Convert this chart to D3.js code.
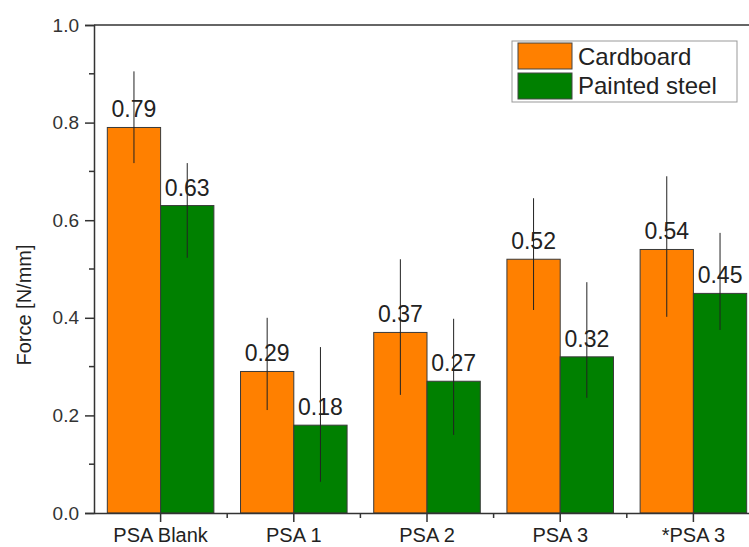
<!DOCTYPE html>
<html>
<head>
<meta charset="utf-8">
<script src="https://cdn.jsdelivr.net/npm/d3@7"></script>
<style>
  body { margin: 0; background: #fff; }
  svg { display: block; font-family: Arial, "Liberation Sans", sans-serif; }
</style>
</head>
<body>
<div id="vis"></div>
<script>
// chart values
var categories = ['PSA Blank', 'PSA 1', 'PSA 2', 'PSA 3', '*PSA 3'];
var seriesNames = ['Cardboard', 'Painted steel'];
var cardboard = [0.79, 0.29, 0.37, 0.52, 0.54];
var paintedSteel = [0.63, 0.18, 0.27, 0.32, 0.45];
// error bar ends (upper / lower)
var cardboardHigh = [0.905, 0.40, 0.52, 0.645, 0.69];
var cardboardLow = [0.717, 0.211, 0.242, 0.416, 0.402];
var steelHigh = [0.717, 0.34, 0.398, 0.473, 0.574];
var steelLow = [0.523, 0.064, 0.16, 0.236, 0.375];
var yTicks = [0, 0.2, 0.4, 0.6, 0.8, 1.0];
var yMinorTicks = [0.1, 0.3, 0.5, 0.7, 0.9];

var colors = ['#ff8000', '#008000'];

var width = 749;
var height = 547;
var margin = { top: 25, left: 94, bottom: 34, right: -11 };

var svg = d3.select('#vis')
  .append('svg')
  .attr('width', width)
  .attr('height', height);

var plotW = width - margin.left - margin.right;
var plotH = height - margin.top - margin.bottom;

var g = svg.append('g')
  .attr('transform', 'translate(' + margin.left + ',' + margin.top + ')');

var x = d3.scaleBand()
  .domain(categories)
  .range([0, plotW])
  .paddingInner(0.2)
  .paddingOuter(0.1);

var xSub = d3.scaleBand()
  .domain(seriesNames)
  .range([0, x.bandwidth()]);

var y = d3.scaleLinear()
  .domain([0, 1])
  .range([plotH, 0]);

var data = [];
categories.forEach(function (c, i) {
  data.push({ cat: c, series: seriesNames[0], v: cardboard[i], hi: cardboardHigh[i], lo: cardboardLow[i], k: 0 });
  data.push({ cat: c, series: seriesNames[1], v: paintedSteel[i], hi: steelHigh[i], lo: steelLow[i], k: 1 });
});

var axisColor = '#333';

// bars
g.selectAll('rect.bar')
  .data(data).enter()
  .append('rect')
  .attr('class', 'bar')
  .attr('x', d => x(d.cat) + xSub(d.series))
  .attr('y', d => y(d.v))
  .attr('width', xSub.bandwidth())
  .attr('height', d => y(0) - y(d.v))
  .attr('fill', d => colors[d.k])
  .attr('stroke', '#3a3a3a')
  .attr('stroke-width', 1);

// error bars
g.selectAll('line.err')
  .data(data).enter()
  .append('line')
  .attr('class', 'err')
  .attr('x1', d => x(d.cat) + xSub(d.series) + xSub.bandwidth() / 2)
  .attr('x2', d => x(d.cat) + xSub(d.series) + xSub.bandwidth() / 2)
  .attr('y1', d => y(d.hi))
  .attr('y2', d => y(d.lo))
  .attr('stroke', '#222')
  .attr('stroke-width', 1);

// value labels
g.selectAll('text.val')
  .data(data).enter()
  .append('text')
  .attr('class', 'val')
  .attr('x', d => x(d.cat) + xSub(d.series) + xSub.bandwidth() / 2)
  .attr('y', d => y(d.v) - 10)
  .attr('text-anchor', 'middle')
  .attr('font-size', 23)
  .attr('fill', '#222')
  .text(d => d.v.toFixed(2));

// frame: top and right
g.append('line')
  .attr('x1', 0).attr('x2', plotW)
  .attr('y1', 0).attr('y2', 0)
  .attr('stroke', axisColor).attr('stroke-width', 1.5);
g.append('line')
  .attr('x1', plotW).attr('x2', plotW)
  .attr('y1', 0).attr('y2', plotH)
  .attr('stroke', axisColor).attr('stroke-width', 1.5);

// y axis
var yAxis = g.append('g')
  .call(d3.axisLeft(y).tickValues(yTicks).tickFormat(d3.format('.1f')).tickSize(9).tickPadding(6));
yAxis.select('.domain').attr('stroke', axisColor).attr('stroke-width', 1.5);
yAxis.selectAll('.tick line').attr('stroke', axisColor).attr('stroke-width', 1.5);
yAxis.selectAll('.tick text').attr('font-size', 19).attr('fill', '#333').attr('font-family', null);

g.selectAll('line.yminor')
  .data(yMinorTicks).enter()
  .append('line')
  .attr('class', 'yminor')
  .attr('x1', -5).attr('x2', 0)
  .attr('y1', d => y(d)).attr('y2', d => y(d))
  .attr('stroke', axisColor).attr('stroke-width', 1.5);

// x axis
var xAxis = g.append('g')
  .attr('transform', 'translate(0,' + plotH + ')')
  .call(d3.axisBottom(x).tickSize(9).tickPadding(6).tickSizeOuter(0));
xAxis.select('.domain').attr('stroke', axisColor).attr('stroke-width', 1.5);
xAxis.selectAll('.tick line').attr('stroke', axisColor).attr('stroke-width', 1.5);
xAxis.selectAll('.tick text').attr('font-size', 20).attr('fill', '#222').attr('font-family', null);

g.selectAll('line.xminor')
  .data(categories.slice(1)).enter()
  .append('line')
  .attr('class', 'xminor')
  .attr('x1', d => x(d) - x.step() * x.paddingInner() / 2)
  .attr('x2', d => x(d) - x.step() * x.paddingInner() / 2)
  .attr('y1', plotH).attr('y2', plotH + 5)
  .attr('stroke', axisColor).attr('stroke-width', 1.5);

// y axis title
svg.append('text')
  .attr('transform', 'translate(31,' + 305 + ') rotate(-90)')
  .attr('text-anchor', 'middle')
  .attr('font-size', 20)
  .attr('fill', '#222')
  .text('Force [N/mm]');

// legend
var legend = svg.append('g').attr('transform', 'translate(512,41)');
legend.append('rect')
  .attr('width', 225).attr('height', 61)
  .attr('fill', '#fff')
  .attr('stroke', '#999').attr('stroke-width', 1);
seriesNames.forEach(function (s, i) {
  legend.append('rect')
    .attr('x', 6).attr('y', 2 + i * 30)
    .attr('width', 54).attr('height', 26)
    .attr('fill', colors[i])
    .attr('stroke', '#444').attr('stroke-width', 1);
  legend.append('text')
    .attr('x', 66).attr('y', 24 + i * 29)
    .attr('font-size', 24)
    .attr('fill', '#222')
    .text(s);
});
</script>
</body>
</html>
